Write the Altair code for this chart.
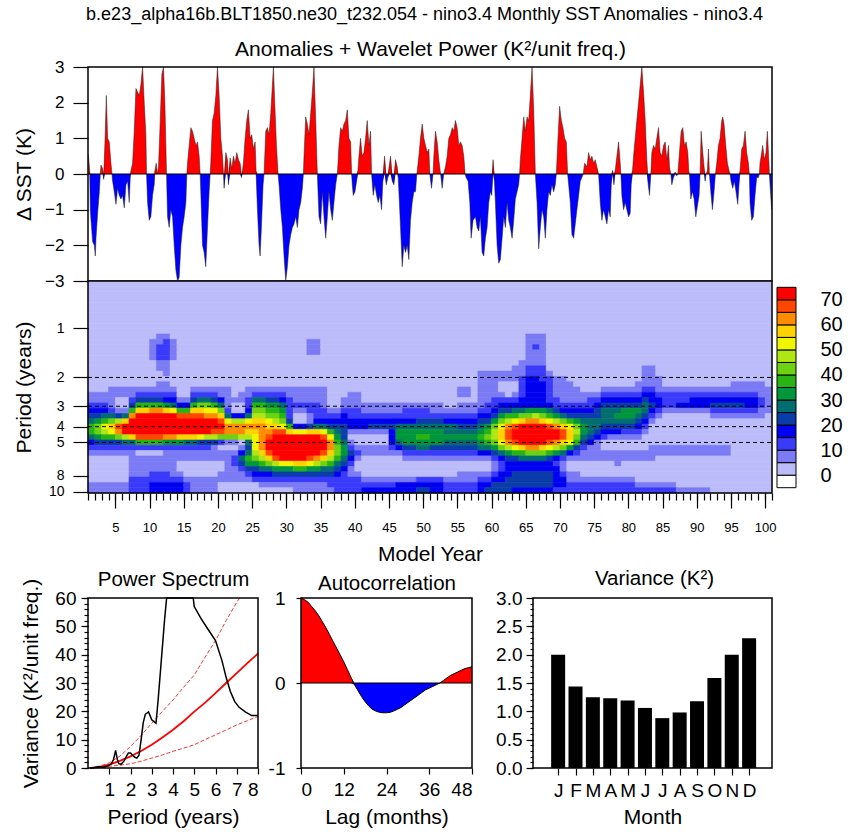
import math
import altair as alt
import pandas as pd

FONT = "Liberation Sans"

# ---------------------------------------------------------------- data
TITLE_MAIN = "b.e23_alpha16b.BLT1850.ne30_t232.054 - nino3.4 Monthly SST Anomalies - nino3.4"
TITLE_TOP = "Anomalies + Wavelet Power (K\u00b2/unit freq.)"

# (model year, SST anomaly K)
SST_POINTS = [
(1.05,0.55),(1.25,0.1),(1.34,-1.0),(1.44,-1.3),(1.68,-1.9),(1.92,-2.0),(2.07,-2.3),(2.17,-1.8),(2.41,-1.1),(2.66,-0.5),
(2.80,0.0),(2.90,0.25),(3.14,0.15),(3.29,-0.15),(3.48,0.9),(3.68,2.2),(3.87,1.0),(4.11,0.9),(4.36,0.3),(4.50,0.0),
(4.60,-0.2),(4.84,-0.5),(5.09,-0.85),(5.33,-0.4),(5.57,-0.6),(5.82,-0.7),(6.06,-0.6),(6.30,-0.95),(6.55,-0.3),(6.79,-0.2),
(7.03,-0.8),(7.18,-0.1),(7.28,0.1),(7.52,0.3),(7.76,1.2),(8.01,2.4),(8.25,2.3),(8.49,2.2),(8.73,2.5),(8.98,3.0),
(9.22,2.0),(9.46,1.1),(9.56,0.0),(9.71,-0.8),(9.95,-1.3),(10.19,-1.2),(10.44,-0.6),(10.68,-0.3),(10.78,0.1),(10.97,0.3),
(11.17,0.0),(11.31,0.2),(11.56,1.5),(11.80,2.8),(12.04,3.0),(12.24,2.0),(12.48,0.0),(12.63,-1.2),(12.87,-1.5),(13.11,-1.0),
(13.36,-1.2),(13.60,-2.0),(13.85,-2.7),(14.09,-3.0),(14.33,-2.9),(14.58,-2.0),(14.82,-1.5),(15.06,-1.2),(15.31,-0.8),(15.45,0.0),
(15.55,0.3),(15.79,0.8),(16.04,1.3),(16.28,1.2),(16.52,1.0),(16.77,0.8),(17.01,0.9),(17.25,0.5),(17.40,0.0),(17.49,-0.5),
(17.74,-2.0),(17.98,-2.2),(18.22,-2.6),(18.47,-1.5),(18.71,-0.5),(18.86,0.0),(18.95,0.3),(19.20,1.5),(19.44,1.7),(19.69,2.2),
(19.93,3.0),(20.17,2.2),(20.42,1.0),(20.66,0.5),(20.81,0.0),(20.90,-0.4),(21.15,0.6),(21.39,0.4),(21.53,-0.3),(21.78,0.45),
(22.02,0.15),(22.26,0.5),(22.51,0.3),(22.75,0.6),(23.00,0.4),(23.24,0.3),(23.43,-0.1),(23.58,0.1),(23.72,0.3),(23.97,1.0),
(24.21,1.5),(24.45,1.8),(24.70,1.0),(24.94,1.1),(25.18,0.7),(25.43,0.9),(25.57,0.1),(25.77,-1.0),(26.01,-2.0),(26.16,-2.3),
(26.35,-1.5),(26.60,-0.3),(26.74,0.0),(26.99,1.2),(27.23,1.3),(27.47,1.1),(27.72,1.7),(27.96,2.5),(28.11,3.0),(28.30,2.0),
(28.55,0.8),(28.79,0.0),(28.93,-0.3),(29.18,-1.0),(29.42,-1.5),(29.66,-2.3),(29.91,-3.0),(30.15,-2.6),(30.39,-2.0),(30.64,-1.7),
(30.88,-1.5),(31.12,-1.4),(31.37,-1.2),(31.61,-1.5),(31.85,-1.0),(32.10,-0.8),(32.34,-0.4),(32.49,0.0),(32.58,0.5),(32.83,1.6),
(33.07,1.4),(33.31,1.1),(33.56,1.7),(33.80,2.3),(34.04,3.0),(34.29,1.5),(34.53,0.0),(34.63,-0.5),(34.77,-1.2),(35.01,-1.4),
(35.26,-0.5),(35.50,-1.2),(35.75,-1.8),(35.99,-1.2),(36.23,-0.5),(36.48,-1.0),(36.72,-1.3),(36.96,-0.8),(37.21,-0.3),(37.45,0.0),
(37.55,0.3),(37.69,0.8),(37.94,1.3),(38.18,1.2),(38.42,1.4),(38.67,1.5),(38.91,1.8),(39.15,1.0),(39.40,0.9),(39.54,0.0),
(39.64,-0.3),(39.78,-0.6),(40.03,-0.5),(40.27,-0.2),(40.46,0.1),(40.61,0.5),(40.85,1.0),(41.09,0.5),(41.34,0.6),(41.58,1.0),
(41.82,1.5),(42.07,0.8),(42.31,1.2),(42.46,0.0),(42.70,-0.6),(42.94,-0.3),(43.19,-0.6),(43.43,-0.8),(43.67,-0.6),(43.92,-1.0),
(44.11,-0.2),(44.36,0.5),(44.60,-0.3),(44.84,-0.1),(45.09,0.3),(45.23,0.5),(45.48,-0.2),(45.72,-0.3),(45.96,0.4),(46.21,0.2),
(46.35,-0.1),(46.45,-0.5),(46.69,-1.5),(46.94,-2.6),(47.18,-2.0),(47.42,-2.2),(47.67,-2.0),(47.91,-2.4),(48.15,-1.3),(48.40,-0.8),
(48.64,-0.5),(48.88,-0.5),(49.08,0.0),(49.37,0.5),(49.61,1.0),(49.86,1.4),(50.10,1.0),(50.35,0.8),(50.59,0.6),(50.83,0.7),
(50.98,0.0),(51.22,-0.4),(51.45,0.0),(51.56,0.5),(51.80,1.2),(52.05,0.9),(52.29,0.4),(52.55,0.0),(52.78,-0.4),(53.00,0.0),
(53.26,0.2),(53.51,0.5),(53.75,1.0),(53.99,1.1),(54.24,1.3),(54.48,1.2),(54.72,1.5),(54.97,1.3),(55.21,0.8),(55.45,0.9),
(55.70,0.8),(55.94,0.5),(56.13,0.0),(56.28,-0.1),(56.57,-0.2),(56.82,-0.8),(57.01,-1.8),(57.30,-1.3),(57.64,-1.2),(57.89,-1.5),
(58.13,-1.6),(58.37,-1.2),(58.62,-2.2),(58.86,-2.3),(59.10,-1.8),(59.35,-1.5),(59.59,-0.8),(59.83,-0.5),(60.03,-0.6),(60.22,0.4),
(60.42,-0.2),(60.56,-0.8),(60.81,-2.0),(61.05,-2.5),(61.29,-2.4),(61.54,-1.8),(61.78,-1.2),(62.02,-1.5),(62.27,-0.8),(62.51,-1.3),
(62.75,-1.5),(63.00,-1.8),(63.24,-1.3),(63.48,-0.7),(63.73,-0.5),(63.97,-0.3),(64.10,0.0),(64.21,0.4),(64.46,1.0),(64.70,1.6),
(64.94,1.2),(65.19,1.6),(65.43,1.5),(65.67,2.2),(65.92,3.0),(66.16,1.8),(66.40,0.0),(66.65,-0.8),(66.89,-2.1),(67.13,-1.5),
(67.38,-1.0),(67.62,-1.2),(67.86,-1.8),(68.10,-1.0),(68.35,-0.5),(68.59,-0.6),(68.83,-0.3),(69.08,-0.5),(69.32,-0.3),(69.47,0.0),
(69.71,1.0),(69.95,1.9),(70.20,1.5),(70.44,1.3),(70.68,1.0),(70.93,0.9),(71.12,0.0),(71.27,-0.3),(71.51,-0.8),(71.75,-1.7),
(72.00,-1.8),(72.24,-1.4),(72.48,-1.0),(72.73,-0.6),(72.97,-0.2),(73.21,-0.1),(73.40,0.0),(73.60,0.3),(73.94,0.2),(74.19,0.6),
(74.43,0.4),(74.67,0.5),(74.92,0.3),(75.16,0.4),(75.40,0.2),(75.65,0.0),(75.89,-0.8),(76.13,-1.3),(76.38,-1.0),(76.62,-1.2),
(76.86,-1.4),(77.11,-1.0),(77.35,-1.2),(77.50,-0.3),(77.69,0.1),(77.89,-0.3),(78.08,0.1),(78.32,0.5),(78.57,0.9),(78.81,0.3),
(78.91,0.0),(79.05,-0.6),(79.30,-1.0),(79.54,-0.8),(79.78,-1.0),(80.03,-1.2),(80.27,-1.1),(80.42,-0.3),(80.61,0.1),(80.76,0.5),
(81.00,1.0),(81.24,1.5),(81.49,2.0),(81.73,2.5),(81.97,3.0),(82.22,2.3),(82.46,1.5),(82.70,0.4),(82.85,-0.2),(83.09,-0.6),
(83.29,0.0),(83.43,0.6),(83.68,0.8),(83.92,0.7),(84.16,1.0),(84.41,1.3),(84.65,0.6),(84.89,0.5),(85.14,0.8),(85.38,0.9),
(85.62,0.4),(85.87,0.8),(86.01,0.2),(86.21,0.0),(86.35,-0.3),(86.60,-0.1),(86.84,0.05),(87.08,-0.05),(87.23,0.0),(87.47,0.6),
(87.72,1.2),(87.96,1.3),(88.20,0.8),(88.45,0.9),(88.69,0.6),(88.83,0.1),(88.93,0.0),(89.13,-0.7),(89.37,-0.5),(89.61,-0.7),
(89.86,-1.2),(90.10,-0.9),(90.34,-0.6),(90.49,0.0),(90.64,1.2),(90.88,0.6),(91.07,0.2),(91.22,-0.2),(91.37,0.0),(91.56,0.1),
(91.71,0.7),(91.85,0.0),(92.05,-0.5),(92.29,-1.0),(92.53,-0.5),(92.73,0.0),(92.92,0.3),(93.17,0.8),(93.41,1.0),(93.65,1.5),
(93.80,1.6),(93.99,1.4),(94.24,0.8),(94.48,0.3),(94.72,0.1),(94.87,0.0),(95.01,-0.2),(95.26,-0.4),(95.50,-0.2),(95.74,-0.5),
(95.99,-0.85),(96.18,-0.3),(96.33,0.1),(96.57,0.7),(96.82,0.8),(97.06,1.2),(97.30,0.6),(97.55,0.3),(97.69,0.0),(97.79,-0.8),
(98.03,-1.3),(98.28,-1.2),(98.52,-0.6),(98.76,-0.1),(99.01,-0.1),(99.15,0.0),(99.25,0.3),(99.49,0.6),(99.64,0.8),(99.88,0.4),
(100.12,0.6),(100.32,1.2),(100.51,0.5),(100.62,0.0),(100.71,-0.3),(100.95,-1.0),
]

# wavelet power contour bins: <0, 0-5, 5-10, ..., 65-70, >70
WAVE_COLORS = ["#ffffff", "#bcbcfa", "#7b7bf5", "#3a3afa", "#0000f0", "#0a3caa",
               "#006e6e", "#00963c", "#28b414", "#6ed214", "#b0e614", "#f0f500",
               "#ffd200", "#ff8c00", "#ff4600", "#ff0000"]
WAVE_BAR_LABELS = [0, 10, 20, 30, 40, 50, 60, 70]
PERIOD_TICKS = [1, 2, 3, 4, 5, 8, 10]
PERIOD_LINES = [2, 3, 4, 5]

# contour bin per model-year column; rows run from short period (top) to long period (bottom)
WAVE_UPPER_DEFAULT = "11111111111111111"
WAVE_UPPER_SPECIAL = {
    9: "11111111111222211", 10: "11111111112233322", 11: "11111111112333322",
    12: "11111111111222211", 32: "11111111111222111", 33: "11111111111222111",
    62: "11111111111111112", 63: "11111111111111122", 64: "11111111112222223",
    65: "11111111112232223", 66: "11111111112222223", 81: "11111111111111112",
    82: "11111111111111112",
}
WAVE_LOWER = [
"11112234568864321111122", "11112234579975321111122", "1111223468ba85321111122", "1112222369cb85321111122",
"111221125aed95321111122", "111221126cffa6321111122", "11122358dfffc6322222333", "1112358cffffe8312222333",
"1112358cffffe8312222333", "1112358dffffe8312223344", "1122358dffffe8312223344", "2122347cffffd7322223344",
"1112346bffffd7322222344", "11111248efffc7322112344", "11111248efffc6322111233", "1112358cefffc6322111222",
"1112369cefffb5322111222", "1112369bdfffa5322111222", "1112358bdffea5222111222", "11122469cefe93122112211",
"111222236bdd92122222211", "111112114add92123322211", "111122114adda1246532211", "111223346bdca6568753211",
"11123689acdcbbba9754311", "11123689acdddddca864321", "111235789bcdeffec964321", "111235789aceffffea75321",
"1112346789befffffb75321", "11122333358cfffffb75321", "11122232114bfffffc85322", "11122232114bfffffc85322",
"11122233225cffffeb75322", "11122233346cffffda75322", "11122223346beffec965322", "111111123458bddca865332",
"11111112345678998654333", "11111223445556776543333", "11112223344212354322333", "11112223344211232112333",
"11111122344211221111234", "11111122345211221111234", "11111122345211221111234", "11111122345211221111234",
"11111122345444321111234", "11111122346776421111244", "11111123346777532111244", "11111123346777532111244",
"11111123356787632111345", "11111123356787632111345", "11111122356777532111344", "11111122356777532111344",
"11111112346676532111233", "11111112346676532111233", "11122122345676532112233", "11122122345676532112233",
"11111122345676532112233", "22222223456787642112344", "22222233457898642112345", "22222334579aa9753223455",
"2211234579bccb964334455", "221113458adeeda75444555", "221123468beffeb85445554", "233334469cffffc86445554",
"344444479dffffd96445554", "34444447adffffd96445554", "334444479cffffc96445554", "233333468beffeb85445554",
"122223357adffda74344443", "1222223469ceec963223443", "1122223458bccb742112233", "11122234579a98532112233",
"11112234567765322111233", "11112334566654222111233", "11112345566542222111233", "11123456665431122111233",
"11123456665421122111233", "11123456765421122211233", "11123457765321122111233", "11123457765321122111233",
"11223457654321122111123", "22234566543211122111123", "22234454321111222111123", "12223443211111221111123",
"11123332111111221111123", "11123332111111221111123", "11123342111111221111112", "11123342111111221111112",
"11123442111111221111112", "11123442111111221111112", "11123442111111221111112", "11123453211111221111111",
"11123453211111221111111", "11123453211111221111111", "11223453211111111111111", "11223453211111111111111",
"11223443211111111111111", "11223443211111111111111", "11222332211111111111111", "11122222111111111111111",
]

# power spectrum (period in years, variance)
PS_SPECTRUM = [(0.1,0.0),(0.3,0.2),(0.5,0.5),(0.7,0.3),(0.9,0.6),(1.0,1.0),(1.1,1.5),(1.2,3.0),(1.3,6.2),(1.38,3.0),
               (1.45,1.5),(1.55,1.3),(1.7,2.5),(1.8,4.0),(1.9,5.3),(2.0,5.3),(2.1,4.5),(2.2,3.8),(2.3,3.5),(2.4,4.5),
               (2.5,10.0),(2.6,16.0),(2.7,19.0),(2.85,19.8),(3.0,17.0),(3.2,15.8),(3.3,24.0),(3.45,38.0),(3.6,52.0),(3.7,60.0),
               (4.0,78.0),(4.4,82.0),(4.8,70.0),(4.95,60.0),(5.0,57.0),(5.3,53.0),(5.6,49.5),(6.0,45.0),(6.3,38.0),(6.5,32.0),
               (6.7,27.0),(6.9,23.5),(7.1,21.5),(7.4,19.8),(7.7,18.5),(8.0,18.5)]
PS_RED = [(0.1,0.0),(0.5,0.3),(1.0,1.2),(1.5,2.5),(2.0,4.1),(2.5,6.0),(3.0,8.2),(3.5,10.8),(4.0,13.5),(4.5,16.5),
          (5.0,19.9),(5.5,23.0),(6.0,26.4),(6.5,30.0),(7.0,33.5),(7.5,37.0),(8.0,40.4)]
PS_UPPER = [(0.1,0.0),(0.5,0.5),(1.0,1.8),(1.5,4.2),(2.0,7.6),(2.5,11.5),(3.0,15.8),(3.5,20.0),(4.0,24.0),(4.5,28.5),
            (5.0,32.8),(5.5,39.0),(6.0,45.0),(6.5,52.0),(7.0,58.5),(7.14,60.0)]
PS_LOWER = [(0.1,0.0),(0.5,0.15),(1.0,0.6),(1.5,1.0),(2.0,1.5),(2.5,2.4),(3.0,3.5),(3.5,4.6),(4.0,5.9),(4.5,7.0),
            (5.0,8.2),(5.5,10.0),(6.0,11.7),(6.5,13.4),(7.0,15.2),(7.5,16.7),(8.0,18.2)]

# autocorrelation at lags 0..48 months
AC_VALUES = [1.0, 0.98, 0.95, 0.90, 0.85, 0.79, 0.72, 0.65, 0.57, 0.49,
             0.41, 0.33, 0.25, 0.16, 0.07, -0.02, -0.09, -0.16, -0.22, -0.27,
             -0.31, -0.33, -0.345, -0.35, -0.35, -0.345, -0.33, -0.31, -0.29, -0.26,
             -0.23, -0.20, -0.17, -0.14, -0.11, -0.08, -0.06, -0.04, -0.02, 0.0,
             0.03, 0.06, 0.09, 0.11, 0.13, 0.15, 0.17, 0.18, 0.19]
AC_TICKS = [-1, 0, 1]

MONTH_LABELS = ["J", "F", "M", "A", "M", "J", "J", "A", "S", "O", "N", "D"]
MONTH_VARIANCE = [2.0, 1.44, 1.25, 1.23, 1.19, 1.06, 0.88, 0.98, 1.18, 1.59, 2.0, 2.29]

# ---------------------------------------------------------------- layout (pixels)
W, H = 848, 835
TOP_X = (88, 772)
SST_Y = (67, 281)
WAV_Y = (281, 493)
CB_X = (777, 796)
CB_Y = (287.3, 487.7)
BOT_Y = (598, 768)
PS_X = (88, 258)
AC_X = (301, 472)
VAR_X = (533, 772)
P_MIN, P_MAX = 0.514, 10.19
YEAR_MIN, YEAR_MAX = 1, 101


def lin(domain, rng, **kw):
    return alt.Scale(type="linear", domain=list(domain), range=list(rng), nice=False, zero=False, **kw)


def ax(**kw):
    base = dict(grid=False, domain=False, labelFont=FONT, titleFont=FONT,
                labelColor="black", titleColor="black", tickColor="black",
                titleFontWeight="normal", tickWidth=1.2, labelOverlap=False, labelBound=False,
                zindex=1)
    base.update(kw)
    return alt.Axis(**base)


def title_axis(orient, offset, text, size, tx, ty):
    return ax(orient=orient, offset=offset, labels=False, ticks=False, title=text,
              titleFontSize=size, titleX=tx, titleY=ty, titleBaseline="alphabetic",
              titleAlign="center", titleAngle=0)


def frame(xdom, ydom, xscale, yscale, xaxis=None, yaxis=None, sw=1.5):
    df = pd.DataFrame({"x0": [xdom[0]], "x1": [xdom[1]], "y0": [ydom[0]], "y1": [ydom[1]]})
    return alt.Chart(df).mark_rect(fillOpacity=0, stroke="black", strokeWidth=sw).encode(
        x=alt.X("x0:Q", scale=xscale, axis=xaxis), x2="x1:Q",
        y=alt.Y("y0:Q", scale=yscale, axis=yaxis), y2="y1:Q")


layers = []
lvl_scale = alt.Scale(domain=list(range(16)), range=WAVE_COLORS)

# ---------------------------------------------------------------- SST panel
sst = pd.DataFrame(SST_POINTS, columns=["t", "v"])
sst["pos"] = sst["v"].clip(lower=0)
sst["neg"] = sst["v"].clip(upper=0)
sx = lin([YEAR_MIN, YEAR_MAX], TOP_X)
sy = lin([-3, 3], (SST_Y[1], SST_Y[0]))

for col, color in (("pos", "#ff0000"), ("neg", "#0000ff")):
    layers.append(alt.Chart(sst).mark_area(color=color, interpolate="linear").encode(
        x=alt.X("t:Q", scale=sx, axis=None),
        y=alt.Y(f"{col}:Q", scale=sy, axis=None),
        y2=alt.Y2Datum(0)))
layers.append(alt.Chart(sst).mark_line(color="#202020", strokeWidth=0.5).encode(
    x=alt.X("t:Q", scale=sx, axis=None), y=alt.Y("v:Q", scale=sy, axis=None)))
layers.append(alt.Chart(pd.DataFrame({"a": [YEAR_MIN], "b": [YEAR_MAX], "y": [0]})).mark_rule(
    color="black", strokeWidth=1).encode(
    x=alt.X("a:Q", scale=sx, axis=title_axis("top", -SST_Y[0], TITLE_MAIN, 18, 424, -48)),
    x2="b:Q", y=alt.Y("y:Q", scale=sy, axis=None)))
layers.append(frame((YEAR_MIN, YEAR_MAX), (-3, 3), sx, sy,
    xaxis=title_axis("top", -SST_Y[0], TITLE_TOP, 21, 430, -12),
    yaxis=ax(orient="left", offset=-TOP_X[0], values=[-3, -2, -1, 0, 1, 2, 3], format="d", tickSize=15,
             labelPadding=9, labelFontSize=17, title="\u0394 SST (K)", titleFontSize=21,
             titleX=24 - TOP_X[0], titleY=(SST_Y[0] + SST_Y[1]) / 2, titleAngle=270,
             titleAlign="center", titleBaseline="middle")))

# ---------------------------------------------------------------- wavelet panel
columns = []
for j, low in enumerate(WAVE_LOWER):
    s = (WAVE_UPPER_SPECIAL.get(j, WAVE_UPPER_DEFAULT) + low)[:40].ljust(40, "1")
    columns.append(s)
nrows = 40
lo, hi = math.log10(P_MIN), math.log10(P_MAX)
edges = [10 ** (lo + k * (hi - lo) / nrows) for k in range(nrows + 1)]
cells = []
for k in range(nrows):
    j = 0
    while j < len(columns):
        lvl = int(columns[j][k], 16)
        j2 = j
        while j2 + 1 < len(columns) and int(columns[j2 + 1][k], 16) == lvl:
            j2 += 1
        cells.append({"x0": YEAR_MIN + j, "x1": YEAR_MIN + j2 + 1, "p0": edges[k], "p1": edges[k + 1], "lvl": lvl})
        j = j2 + 1
cells = pd.DataFrame(cells)
wx = lin([YEAR_MIN, YEAR_MAX], TOP_X)
wy = alt.Scale(type="log", domain=[P_MIN, P_MAX], range=[WAV_Y[0], WAV_Y[1]], nice=False)

layers.append(alt.Chart(cells).mark_rect(strokeWidth=0.6).encode(
    x=alt.X("x0:Q", scale=wx, axis=None), x2="x1:Q",
    y=alt.Y("p0:Q", scale=wy, axis=None), y2="p1:Q",
    color=alt.Color("lvl:O", scale=lvl_scale, legend=None),
    stroke=alt.Stroke("lvl:O", scale=lvl_scale, legend=None)))
layers.append(alt.Chart(pd.DataFrame({"p": PERIOD_LINES, "a": YEAR_MIN, "b": YEAR_MAX})).mark_rule(
    color="black", strokeWidth=1, strokeDash=[4, 3]).encode(
    x=alt.X("a:Q", scale=wx, axis=ax(orient="bottom", offset=WAV_Y[1] - H,
            values=list(range(YEAR_MIN, YEAR_MAX + 1)), labels=False, tickSize=7, title=None)),
    x2="b:Q", y=alt.Y("p:Q", scale=wy, axis=None)))
layers.append(frame((YEAR_MIN, YEAR_MAX), (P_MIN, P_MAX), wx, wy,
    xaxis=ax(orient="bottom", offset=WAV_Y[1] - H, values=list(range(5, 101, 5)), format="d", tickSize=15,
             labelPadding=13, labelFontSize=13, title="Model Year", titleFontSize=21,
             titleX=430, titleY=67.5, titleBaseline="alphabetic", titleAlign="center"),
    yaxis=ax(orient="left", offset=-TOP_X[0], values=PERIOD_TICKS, format="d", tickSize=15,
             labelPadding=9, labelFontSize=14, title="Period (years)", titleFontSize=21,
             titleX=24 - TOP_X[0], titleY=(WAV_Y[0] + WAV_Y[1]) / 2, titleAngle=270,
             titleAlign="center", titleBaseline="middle")))

# colour bar
cb = pd.DataFrame({"lvl": list(range(16)), "v0": [-5 + 5 * i for i in range(16)],
                   "v1": [5 * i for i in range(16)], "a": 0, "b": 1})
layers.append(alt.Chart(cb).mark_rect(stroke="black", strokeWidth=1).encode(
    x=alt.X("a:Q", scale=lin([0, 1], CB_X), axis=None), x2="b:Q",
    y=alt.Y("v0:Q", scale=lin([-5, 75], (CB_Y[1], CB_Y[0])),
            axis=ax(orient="right", offset=CB_X[1] - W, values=WAVE_BAR_LABELS, format="d", ticks=False,
                    labelPadding=24, labelAlign="left", labelBaseline="middle",
                    labelFontSize=20, title=None)),
    y2="v1:Q",
    color=alt.Color("lvl:O", scale=lvl_scale, legend=None)))

# ---------------------------------------------------------------- power spectrum
px_ = lin([0, 8], PS_X)
py_ = lin([0, 60], (BOT_Y[1], BOT_Y[0]))
pyc = lin([0, 60], (BOT_Y[1], BOT_Y[0]), clamp=True)
ps_spec = pd.DataFrame(PS_SPECTRUM, columns=["p", "v"])
layers.append(alt.Chart(pd.DataFrame(PS_RED, columns=["p", "v"])).mark_line(color="#ff0000", strokeWidth=1.8).encode(
    x=alt.X("p:Q", scale=px_, axis=None), y=alt.Y("v:Q", scale=py_, axis=None)))
for data in (PS_UPPER, PS_LOWER):
    layers.append(alt.Chart(pd.DataFrame(data, columns=["p", "v"])).mark_line(
        color="#ff0000", strokeWidth=0.8, strokeDash=[4, 2]).encode(
        x=alt.X("p:Q", scale=px_, axis=None), y=alt.Y("v:Q", scale=py_, axis=None)))
layers.append(alt.Chart(ps_spec).mark_line(color="black", strokeWidth=1.5).encode(
    x=alt.X("p:Q", scale=px_, axis=title_axis("top", -BOT_Y[0], "Power Spectrum", 20.5, 173, -13)),
    y=alt.Y("v:Q", scale=pyc, axis=ax(orient="left", offset=-PS_X[0], values=list(range(0, 61, 2)),
                                      labels=False, tickSize=4, title=None))))
layers.append(frame((0, 8), (0, 60), px_, py_,
    xaxis=ax(orient="bottom", offset=BOT_Y[1] - H, values=list(range(1, 9)), format="d", tickSize=6,
             labelPadding=6, labelFontSize=19, title="Period (years)", titleFontSize=21,
             titleX=(PS_X[0] + PS_X[1]) / 2, titleY=55, titleBaseline="alphabetic", titleAlign="center"),
    yaxis=ax(orient="left", offset=-PS_X[0], values=list(range(0, 61, 10)), format="d", tickSize=7,
             labelPadding=5, labelFontSize=19, title="Variance (K\u00b2/unit freq.)", titleFontSize=21,
             titleX=31 - PS_X[0], titleY=(BOT_Y[0] + BOT_Y[1]) / 2, titleAngle=270,
             titleAlign="center", titleBaseline="middle")))

# ---------------------------------------------------------------- autocorrelation
acx = lin([0, 48], AC_X)
acy = lin([-1, 1], (BOT_Y[1], BOT_Y[0]))
ac = pd.DataFrame({"lag": list(range(len(AC_VALUES))), "r": AC_VALUES})
ac["pos"] = ac["r"].clip(lower=0)
ac["neg"] = ac["r"].clip(upper=0)
for col, color in (("pos", "#ff0000"), ("neg", "#0000ff")):
    layers.append(alt.Chart(ac).mark_area(color=color).encode(
        x=alt.X("lag:Q", scale=acx, axis=None),
        y=alt.Y(f"{col}:Q", scale=acy, axis=None), y2=alt.Y2Datum(0)))
layers.append(alt.Chart(pd.DataFrame({"a": [0], "b": [48], "y": [0]})).mark_rule(color="black", strokeWidth=1).encode(
    x=alt.X("a:Q", scale=acx, axis=None), x2="b:Q", y=alt.Y("y:Q", scale=acy, axis=None)))
layers.append(alt.Chart(ac).mark_line(color="black", strokeWidth=1).encode(
    x=alt.X("lag:Q", scale=acx, axis=title_axis("top", -BOT_Y[0], "Autocorrelation", 20.5,
                                                (AC_X[0] + AC_X[1]) / 2, -9)),
    y=alt.Y("r:Q", scale=acy, axis=None)))
layers.append(frame((0, 48), (-1, 1), acx, acy,
    xaxis=ax(orient="bottom", offset=BOT_Y[1] - H, values=[0, 12, 24, 36, 48], format="d", tickSize=6,
             labelPadding=6, labelFontSize=19, title="Lag (months)", titleFontSize=21,
             titleX=(AC_X[0] + AC_X[1]) / 2, titleY=55, titleBaseline="alphabetic", titleAlign="center"),
    yaxis=ax(orient="left", offset=-AC_X[0], values=AC_TICKS, tickSize=5, labelPadding=11,
             labelExpr="datum.value > 0.5 ? '1' : (datum.value < -0.5 ? '-1' : '0')",
             labelFontSize=19, title=None)))

# ---------------------------------------------------------------- monthly variance
vx = lin([-0.16, 13.03], VAR_X)
vy = lin([0, 3], (BOT_Y[1], BOT_Y[0]))
var = pd.DataFrame({"m": list(range(1, 13)), "v": MONTH_VARIANCE})
label_expr = "[" + ",".join(f"'{m}'" for m in MONTH_LABELS) + "][datum.value - 1]"
layers.append(alt.Chart(var).mark_bar(color="black", size=14).encode(
    x=alt.X("m:Q", scale=vx, axis=ax(orient="bottom", offset=BOT_Y[1] - H, values=list(range(1, 13)),
                                     labelExpr=label_expr, tickSize=7, labelPadding=6, labelFontSize=19,
                                     title="Month", titleFontSize=21, titleX=(VAR_X[0] + VAR_X[1]) / 2,
                                     titleY=55, titleBaseline="alphabetic", titleAlign="center")),
    y=alt.Y("v:Q", scale=vy, axis=ax(orient="left", offset=-VAR_X[0],
                                     values=[round(0.1 * i, 1) for i in range(31)], labels=False,
                                     tickSize=3, title=None)),
    y2=alt.Y2Datum(0)))
layers.append(frame((-0.16, 13.03), (0, 3), vx, vy,
    xaxis=title_axis("top", -BOT_Y[0], "Variance (K\u00b2)", 20.5, 654, -14),
    yaxis=ax(orient="left", offset=-VAR_X[0], values=[0, 0.5, 1, 1.5, 2, 2.5, 3], format=".1f",
             tickSize=7, labelPadding=4, labelFontSize=19, title=None)))

chart = alt.layer(*layers).resolve_scale(x="independent", y="independent").properties(
    width=W, height=H, autosize=alt.AutoSizeParams(type="none"), padding=0, background="white"
).configure_view(stroke=None)

chart.save("out.html", embed_options={"renderer": "svg", "actions": False})
